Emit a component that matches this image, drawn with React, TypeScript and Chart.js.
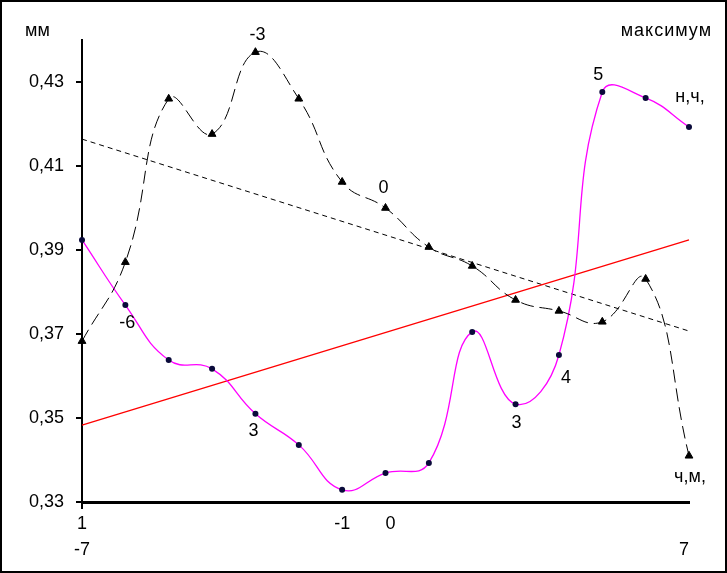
import React, { useEffect, useRef } from "react";
import { Chart, registerables } from "chart.js";

Chart.register(...registerables);

// x categories (positions -7 .. 7)
const categories = [-7, -6, -5, -4, -3, -2, -1, 0, 1, 2, 3, 4, 5, 6, 7];
// tick labels under the x axis (two rows)
const xTickLabels: (string | string[])[] = [
  ["1", "-7"], "", "", "", "", "", "-1", "  0", "", "", "", "", "", "", ["", "7  "],
];
const yTicks = [0.33, 0.35, 0.37, 0.39, 0.41, 0.43];

// black dashed series with triangles
const blackSeries = [
  0.3683, 0.3871, 0.426, 0.4176, 0.4371, 0.426, 0.4062, 0.4, 0.3907, 0.3862, 0.3781, 0.3755, 0.3729, 0.3831, 0.341,
];
// magenta series with dots
const pinkSeries = [
  0.3924, 0.3769, 0.3638, 0.3617, 0.351, 0.3436, 0.3329, 0.3369, 0.3393, 0.3705, 0.3533, 0.365, 0.4276, 0.4262, 0.4193,
];
// trend lines (end points only)
const redTrend = [0.3483, null, null, null, null, null, null, null, null, null, null, null, null, null, 0.3924];
const dottedTrend = [0.4164, null, null, null, null, null, null, null, null, null, null, null, null, null, 0.3707];

// point annotations: [series, index, text]
const pointLabels: [string, number, string][] = [
  ["pink", 1, "-6"],
  ["pink", 4, "3"],
  ["pink", 10, "3"],
  ["pink", 11, "4"],
  ["pink", 12, "5"],
  ["pink", 14, "н,ч,"],
  ["black", 4, "-3"],
  ["black", 7, "0"],
  ["black", 14, "ч,м,"],
];
// offsets for the annotations, same order
const pointLabelOffsets: [number, number][] = [
  [2, 18],
  [-2, 17],
  [1, 19],
  [7, 23],
  [-4, -17],
  [1, -30],
  [2, -17],
  [-2, -20],
  [1, 21],
];

const FONT = "'Liberation Sans', Arial, sans-serif";

export default function App() {
  const ref = useRef<HTMLCanvasElement | null>(null);
  useEffect(() => {
    if (!ref.current) return;
    const extras = {
      id: "extras",
      afterDraw(chart: any) {
        const ctx = chart.ctx;
        ctx.save();
        ctx.fillStyle = "#000";
        ctx.font = `18px ${FONT}`;
        ctx.textAlign = "center";
        ctx.textBaseline = "middle";
        pointLabels.forEach(([s, i, t], k) => {
          const meta = chart.getDatasetMeta(s === "pink" ? 1 : 0);
          const el = meta.data[i];
          const [dx, dy] = pointLabelOffsets[k];
          ctx.fillText(t, el.x + dx, el.y + dy);
        });
        ctx.textAlign = "left";
        ctx.fillText("мм", 25, 31);
        ctx.textAlign = "right";
        try {
          (ctx as any).letterSpacing = "1px";
        } catch (e) {}
        ctx.fillText("максимум", 712, 31);
        (ctx as any).letterSpacing = "0px";
        ctx.strokeStyle = "#000";
        ctx.lineWidth = 2;
        ctx.strokeRect(1, 1, 725, 571);
        ctx.restore();
      },
    };
    const chart = new Chart(ref.current, {
      type: "line",
      data: {
        labels: categories.map(String),
        datasets: [
          {
            data: blackSeries,
            borderColor: "#000",
            borderWidth: 1,
            borderDash: [13, 6],
            tension: 0.45,
            pointStyle: "triangle",
            pointRadius: 4.5,
            pointBackgroundColor: "#000",
            pointBorderColor: "#000",
            pointBorderWidth: 1,
          },
          {
            data: pinkSeries,
            borderColor: "#FF00FF",
            borderWidth: 1.3,
            tension: 0.45,
            pointStyle: "circle",
            pointRadius: 3,
            pointBackgroundColor: "#0a0a3a",
            pointBorderColor: "#0a0a3a",
            pointBorderWidth: 0,
          },
          {
            data: redTrend,
            borderColor: "#FF0000",
            borderWidth: 1.3,
            spanGaps: true,
            pointRadius: 0,
          },
          {
            data: dottedTrend,
            borderColor: "#000",
            borderWidth: 1,
            borderDash: [5, 4],
            spanGaps: true,
            pointRadius: 0,
          },
        ],
      },
      options: {
        animation: false,
        responsive: true,
        maintainAspectRatio: false,
        layout: { padding: { top: 40, right: 38, left: 0, bottom: 0 } },
        plugins: { legend: { display: false }, tooltip: { enabled: false } },
        scales: {
          x: {
            offset: false,
            border: { color: "#000", width: 3 },
            grid: {
              display: true,
              drawOnChartArea: false,
              tickLength: 7,
              color: (c: any) => (c.index === 0 ? "#000" : "rgba(0,0,0,0)"),
              lineWidth: 2,
            },
            ticks: {
              autoSkip: false,
              maxRotation: 0,
              padding: 2,
              color: "#000",
              font: { family: FONT, size: 18, lineHeight: 1.45 },
              callback: (_v: any, i: number) => xTickLabels[i],
            },
            afterFit: (s: any) => {
              s.height = 71;
            },
          },
          y: {
            min: 0.33,
            max: 0.44,
            border: { color: "#000", width: 2 },
            grid: { display: true, drawOnChartArea: false, tickLength: 6, color: "#000", lineWidth: 2 },
            afterBuildTicks: (s: any) => {
              s.ticks = yTicks.map((v) => ({ value: v }));
            },
            ticks: {
              padding: 12,
              color: "#000",
              font: { family: FONT, size: 18 },
              callback: (v: any) => Number(v).toFixed(2).replace(".", ","),
            },
            afterFit: (s: any) => {
              s.width = 82;
            },
          },
        },
      },
      plugins: [extras],
    });
    return () => chart.destroy();
  }, []);
  return (
    <div style={{ position: "absolute", left: 0, top: 0, width: 727, height: 573, background: "#fff" }}>
      <canvas ref={ref} />
    </div>
  );
}
